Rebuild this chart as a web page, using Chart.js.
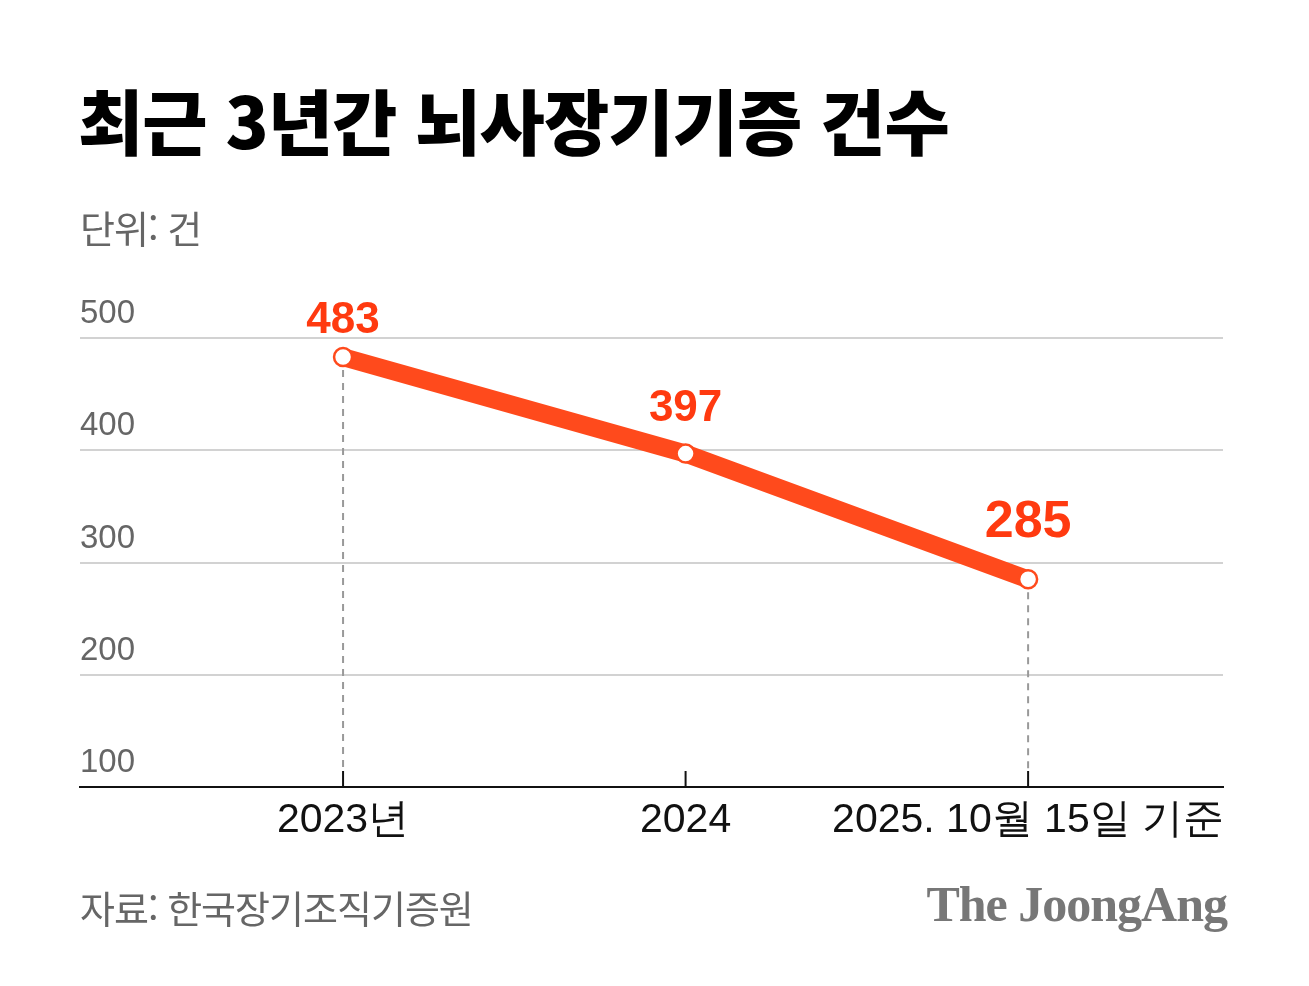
<!DOCTYPE html>
<html lang="ko">
<head>
<meta charset="utf-8">
<title>최근 3년간 뇌사장기기증 건수</title>
<script src="https://cdn.jsdelivr.net/npm/chart.js@4.4.1/dist/chart.umd.min.js"></script>
<style>
  html, body { margin: 0; padding: 0; background: #fff; }
  #wrap { position: relative; width: 1309px; height: 986px; overflow: hidden; }
  #wrap canvas { position: absolute; left: 0; top: 0; }
  .txt { position: absolute; white-space: nowrap; line-height: 1; }
  .title { left: 78px; top: 67px; font: 900 71px 'Noto Sans CJK KR', sans-serif; color: #000; letter-spacing: -1px; }
  .unit { left: 80px; top: 199px; font: 400 38px 'Noto Sans CJK KR', sans-serif; color: #666; letter-spacing: -1px; }
  .source { left: 80px; top: 879px; font: 400 38px 'Noto Sans CJK KR', sans-serif; color: #666; letter-spacing: -1px; }
  .logo { right: 82px; top: 875px; font: 700 50px 'Liberation Serif', serif; color: #777; letter-spacing: -1px; }
</style>
</head>
<body>
<div id="wrap">
  <canvas id="myChart"></canvas>
  <div class="txt title">최근 3년간 뇌사장기기증 건수</div>
  <div class="txt unit">단위: 건</div>
  <div class="txt source">자료: 한국장기조직기증원</div>
  <div class="txt logo">The JoongAng</div>
</div>
<script>
// 데이터
const categories = ['2023년', '2024', '2025. 10월 15일 기준'];
const cases = [483, 397, 285];
const yTicks = [100, 200, 300, 400, 500];

const orange = '#ff4a1c';

// 점선 + 눈금 (2023, 2025만 점선)
const guidePlugin = {
    id: 'guides',
    beforeDatasetsDraw(chart) {
        const { ctx, scales: { x, y } } = chart;
        const meta = chart.getDatasetMeta(0);
        const base = y.getPixelForValue(y.min);
        ctx.save();
        ctx.strokeStyle = '#999';
        ctx.lineWidth = 2;
        ctx.setLineDash([7, 6]);
        [0, 2].forEach(i => {
            const p = meta.data[i];
            ctx.beginPath();
            ctx.moveTo(p.x, p.y);
            ctx.lineTo(p.x, base - 15);
            ctx.stroke();
        });
        ctx.setLineDash([]);
        ctx.strokeStyle = '#111';
        x.ticks.forEach(t => {
            const px = x.getPixelForValue(t.value);
            ctx.beginPath();
            ctx.moveTo(px, base);
            ctx.lineTo(px, base - 16);
            ctx.stroke();
        });
        ctx.restore();
    }
};

// 값 라벨 (마지막 값은 크게)
const labelPlugin = {
    id: 'valueLabels',
    afterDatasetsDraw(chart) {
        const { ctx } = chart;
        const meta = chart.getDatasetMeta(0);
        const extra = [0, 8, 14];
        ctx.save();
        ctx.textAlign = 'center';
        ctx.textBaseline = 'alphabetic';
        meta.data.forEach((p, i) => {
            const size = i === cases.length - 1 ? 52 : 44;
            ctx.font = 'bold ' + size + "px 'Liberation Sans', Arial, sans-serif";
            const yPos = p.y - size * 0.55 - extra[i];
            ctx.lineWidth = 8;
            ctx.strokeStyle = '#fff';
            ctx.lineJoin = 'round';
            ctx.strokeText(String(cases[i]), p.x, yPos);
            ctx.fillStyle = '#ff3a10';
            ctx.fillText(String(cases[i]), p.x, yPos);
        });
        ctx.restore();
    }
};

const ctx = document.getElementById('myChart').getContext('2d');

new Chart(ctx, {
    type: 'line',
    data: {
        datasets: [{
            data: cases.map((v, i) => ({ x: i, y: v })),
            borderColor: orange,
            borderWidth: 18,
            pointRadius: 9,
            pointBorderWidth: 2.5,
            pointBackgroundColor: '#fff',
            pointBorderColor: orange,
            tension: 0,
            clip: false
        }]
    },
    options: {
        responsive: true,
        maintainAspectRatio: false,
        animation: false,
        events: [],
        layout: {
            padding: { left: 80, right: 86, top: 338, bottom: 129 }
        },
        plugins: {
            legend: { display: false },
            tooltip: { enabled: false }
        },
        scales: {
            x: {
                type: 'linear',
                min: -0.768,
                max: 2.569,
                afterBuildTicks: scale => {
                    scale.ticks = categories.map((c, i) => ({ value: i }));
                },
                afterFit: scale => { scale.height = 70; },
                ticks: {
                    callback: value => categories[value],
                    font: { size: 41, family: "'Liberation Sans', Arial, sans-serif" },
                    color: '#111',
                    padding: 9,
                    maxRotation: 0,
                    autoSkip: false
                },
                grid: { drawOnChartArea: false, drawTicks: false },
                border: { display: true, color: '#111', width: 2 }
            },
            y: {
                min: 100,
                max: 500,
                afterBuildTicks: scale => {
                    scale.ticks = yTicks.map(v => ({ value: v }));
                },
                afterFit: scale => { scale.width = 0; },
                ticks: {
                    mirror: true,
                    padding: 0,
                    labelOffset: -24,
                    font: { size: 33, family: "'Liberation Sans', Arial, sans-serif" },
                    color: '#666'
                },
                grid: {
                    drawTicks: false,
                    lineWidth: 2,
                    color: c => (c.tick && c.tick.value === 100 ? 'rgba(0,0,0,0)' : '#d2d2d2')
                },
                border: { display: false }
            }
        }
    },
    plugins: [guidePlugin, labelPlugin]
});
</script>
</body>
</html>
